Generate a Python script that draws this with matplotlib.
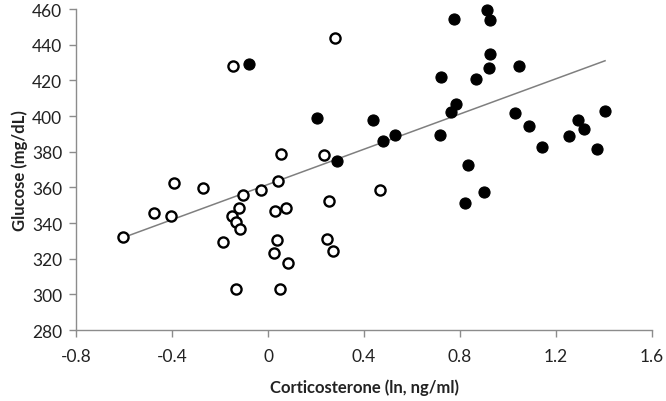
import matplotlib
matplotlib.use("Agg")
import matplotlib.pyplot as plt

# Open circles (group 1)
open_x = [-0.603, -0.475, -0.405, -0.393, -0.271, -0.188, -0.151, -0.122, -0.133, -0.115,
          -0.104, -0.133, -0.029, 0.043, 0.053, 0.029, 0.076, 0.038, 0.024, 0.085,
          0.049, -0.145, 0.279, 0.235, 0.468, 0.253, 0.247, 0.272]
open_y = [332, 345.4, 344, 362.2, 359.4, 329.5, 344.1, 348.6, 340.4, 336.4,
          355.7, 303, 358.3, 363.4, 378.7, 346.5, 348.4, 330.4, 323.1, 317.4,
          303, 428, 443.9, 378.1, 358.5, 352.3, 330.8, 324.4]

# Filled circles (group 2)
fill_x = [-0.08, 0.205, 0.286, 0.439, 0.48, 0.529, 0.914, 0.925, 0.775, 0.925,
          0.922, 1.047, 0.72, 0.865, 0.783, 0.763, 1.03, 1.087, 0.715, 1.293,
          1.318, 1.404, 1.253, 1.14, 1.371, 0.833, 0.901, 0.82]
fill_y = [429, 398.9, 374.8, 397.7, 386, 389.5, 459.5, 454, 454.2, 435,
          426.7, 427.9, 421.9, 420.7, 406.5, 402.4, 401.5, 394.4, 389.5, 397.9,
          392.9, 402.6, 388.6, 382.4, 381.3, 372.6, 357.2, 351.2]

# Trend line end points
trend_x = [-0.6, 1.404]
trend_y = [332, 431]

x_ticks = [-0.8, -0.4, 0, 0.4, 0.8, 1.2, 1.6]
x_tick_labels = ["-0.8", "-0.4", "0", "0.4", "0.8", "1.2", "1.6"]
y_ticks = [280, 300, 320, 340, 360, 380, 400, 420, 440, 460]

plt.rcParams['font.family'] = ['Lato', 'DejaVu Sans']

fig = plt.figure(figsize=(6.66, 4.02), dpi=100)
ax = fig.add_axes([0.1141, 0.1766, 0.865, 0.7984])

ax.plot(trend_x, trend_y, color='#7f7f7f', lw=1.1, zorder=1)
ax.plot(open_x, open_y, 'o', ms=7.3, mfc='white', mec='black', mew=1.7, ls='none',
        zorder=2, clip_on=False)
ax.plot(fill_x, fill_y, 'o', ms=8.0, mfc='black', mec='black', mew=0.8, ls='none',
        zorder=3, clip_on=False)

ax.set_xlim(-0.8, 1.6)
ax.set_ylim(280, 460)
ax.set_xticks(x_ticks)
ax.set_xticklabels(x_tick_labels)
ax.set_yticks(y_ticks)

for s in ['top', 'right']:
    ax.spines[s].set_visible(False)
for s in ['left', 'bottom']:
    ax.spines[s].set_color('#8c8c8c')
    ax.spines[s].set_linewidth(1.0)
ax.tick_params(axis='both', colors='#8c8c8c', length=5, width=1.0, labelsize=12.5, labelcolor='#222222')
ax.tick_params(axis='x', pad=8)
ax.tick_params(axis='y', pad=5)

ax.set_xlabel('Corticosterone (ln, ng/ml)', fontsize=12, fontweight='bold', color='#222222', labelpad=10)
ax.set_ylabel('Glucose (mg/dL)', fontsize=12, fontweight='bold', color='#222222', labelpad=3)

fig.savefig('out.png', dpi=100)
